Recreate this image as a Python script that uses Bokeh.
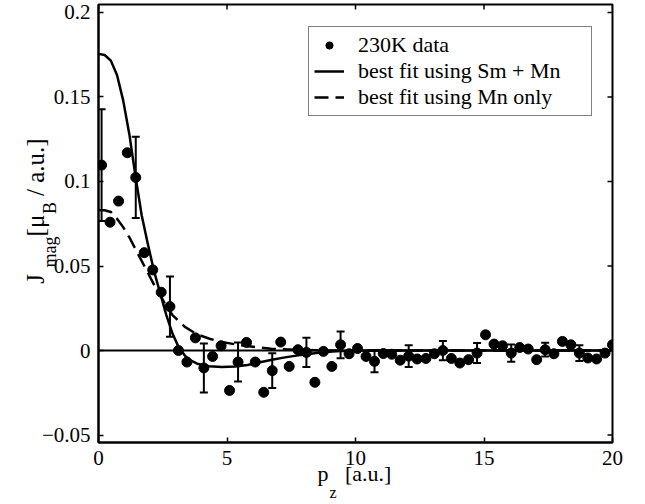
import numpy as np
from bokeh.plotting import figure
from bokeh.models import (ColumnDataSource, Whisker, TeeHead, Span, Legend, LegendItem,
                          LinearAxis, FixedTicker, CustomJSTickFormatter, Title, Range1d)
from bokeh.embed import file_html
from bokeh.resources import INLINE

# ---- data ----
pz = [0.12, 0.45, 0.78, 1.12, 1.45, 1.78, 2.11, 2.44, 2.78, 3.11,
      3.44, 3.77, 4.10, 4.44, 4.77, 5.10, 5.43, 5.76, 6.10, 6.43,
      6.76, 7.09, 7.42, 7.76, 8.09, 8.42, 8.75, 9.08, 9.42, 9.75,
      10.08, 10.41, 10.74, 11.08, 11.41, 11.74, 12.07, 12.40, 12.74, 13.07,
      13.40, 13.73, 14.06, 14.40, 14.73, 15.06, 15.39, 15.72, 16.06, 16.39,
      16.72, 17.05, 17.38, 17.72, 18.05, 18.38, 18.71, 19.04, 19.38, 19.71,
      20.0]
jmag = [0.1097, 0.0759, 0.0884, 0.1170, 0.1024, 0.0579, 0.0477, 0.0345, 0.0260, 0.0000,
        -0.0068, 0.0075, -0.0103, -0.0035, 0.0028, -0.0236, -0.0068, 0.0048, -0.0068, -0.0247,
        -0.0119, 0.0050, -0.0094, 0.0005, -0.0011, -0.0188, -0.0005, -0.0094, 0.0034, -0.0019,
        0.0012, -0.0035, -0.0064, -0.0018, -0.0022, -0.0057, -0.0033, -0.0050, -0.0047, -0.0019,
        0.0000, -0.0047, -0.0074, -0.0054, -0.0015, 0.0093, 0.0038, 0.0028, -0.0015, 0.0018,
        0.0009, -0.0054, 0.0005, -0.0019, 0.0054, 0.0034, -0.0015, -0.0044, -0.0050, -0.0015,
        0.0034]
jerr = [0.0330, 0, 0, 0, 0.0240, 0, 0, 0, 0.0178, 0,
        0, 0, 0.0145, 0, 0, 0, 0.0115, 0, 0, 0,
        0.0103, 0, 0, 0, 0.0086, 0, 0, 0, 0.0079, 0,
        0, 0, 0.0064, 0, 0, 0, 0.0064, 0, 0, 0,
        0.0057, 0, 0, 0, 0.0059, 0, 0, 0, 0.0051, 0,
        0, 0, 0.0041, 0, 0, 0, 0.0047, 0, 0, 0,
        0]

fit_smmn_x = [0, 0.24, 0.48, 0.72, 0.96, 1.2, 1.44, 1.68, 1.92, 2.16, 2.4, 2.64, 2.88,
              3.12, 3.36, 3.6, 3.84, 4.3, 4.8, 5.3, 5.8, 6.2, 6.7, 7.2, 7.7, 8.2, 8.6,
              9.1, 9.6, 10.5, 20]
fit_smmn_y = [0.1755, 0.1748, 0.1715, 0.163, 0.148, 0.128, 0.103, 0.080, 0.063, 0.047,
              0.034, 0.021, 0.010, 0.002, -0.003, -0.006, -0.0078, -0.0093, -0.0098,
              -0.0095, -0.0085, -0.0072, -0.0056, -0.0042, -0.003, -0.002, -0.0012,
              -0.0006, -0.0002, 0.0, 0.0]
fit_mn_x = [0, 0.24, 0.48, 0.72, 0.96, 1.2, 1.44, 1.68, 1.92, 2.16, 2.4, 2.64, 2.88,
            3.36, 3.84, 4.32, 4.8, 5.28, 5.76, 6.24, 6.72, 7.68, 8.64, 9.6, 20]
fit_mn_y = [0.083, 0.083, 0.082, 0.078, 0.073, 0.067, 0.060, 0.053, 0.046, 0.039,
            0.033, 0.026, 0.021, 0.014, 0.0095, 0.007, 0.005, 0.0038, 0.0027, 0.0018,
            0.0011, 0.0004, 0.0001, 0.0, 0.0]

x_ticks = [0, 5, 10, 15, 20]
y_ticks = [-0.05, 0, 0.05, 0.1, 0.15, 0.2]
X_MIN, X_MAX = 0, 20
Y_MIN, Y_MAX = -0.0544, 0.2047
legend_labels = ["230K data", "best fit using Sm + Mn", "best fit using Mn only"]

FONT = "Liberation Serif"
TICK_FS = "21px"
NB = "\u00a0"

p = figure(width=640, height=504, output_backend="svg", toolbar_location=None,
           x_range=Range1d(X_MIN, X_MAX), y_range=Range1d(Y_MIN, Y_MAX),
           min_border_left=98, min_border_right=28, min_border_top=4, min_border_bottom=61,
           x_axis_location=None, y_axis_location=None)
p.grid.visible = False
p.background_fill_color = "white"
p.border_fill_color = "white"
p.outline_line_color = "black"
p.outline_line_width = 2

fmt = CustomJSTickFormatter(code="""
var s = Math.abs(tick).toFixed(2).replace(/0+$/, '').replace(/\\.$/, '');
return (tick < -1e-9 ? '\\u2212' : '') + s;
""")

def make_axis(ticks):
    ax = LinearAxis(ticker=FixedTicker(ticks=ticks), formatter=fmt)
    ax.major_tick_in = 5
    ax.major_tick_out = 0
    ax.minor_tick_in = 0
    ax.minor_tick_out = 0
    ax.major_tick_line_width = 1.5
    ax.axis_line_width = 2
    ax.axis_line_color = "black"
    ax.major_label_text_font = FONT
    ax.major_label_text_color = "black"
    ax.major_label_text_font_size = TICK_FS
    ax.major_label_standoff = 8
    ax.axis_label_text_font = FONT
    ax.axis_label_text_font_style = "normal"
    ax.axis_label_text_color = "black"
    return ax

p.add_layout(make_axis(x_ticks), "below")

# y label J_mag [mu_B / a.u.]: subscripts on the tick axis, main text on a bare axis
yax = make_axis(y_ticks)
yax.axis_label = "mag" + NB * 5 + "B" + NB * 5
yax.axis_label_text_font_size = "18px"
yax.axis_label_standoff = -21
p.add_layout(yax, "left")

ylab = LinearAxis(ticker=FixedTicker(ticks=[]))
ylab.axis_line_color = None
ylab.major_tick_line_color = None
ylab.minor_tick_line_color = None
ylab.major_label_standoff = 0
ylab.axis_label = NB * 4 + "J" + NB * 6 + "[\u03bc" + NB * 2 + " / a.u.]"
ylab.axis_label_text_font = FONT
ylab.axis_label_text_font_style = "normal"
ylab.axis_label_text_font_size = "25px"
ylab.axis_label_text_color = "black"
ylab.axis_label_standoff = -12
p.add_layout(ylab, "left")

# inward ticks on the top and right edges of the box
p.ray(x=x_ticks, y=[Y_MAX] * len(x_ticks), length=5, length_units="screen",
      angle=-np.pi / 2, line_color="black", line_width=1.5)
p.ray(x=[X_MAX] * len(y_ticks), y=y_ticks, length=5, length_units="screen",
      angle=np.pi, line_color="black", line_width=1.5)

# zero line
p.add_layout(Span(location=0, dimension="width", line_color="black", line_width=2))

# fits
r_sm = p.line(fit_smmn_x, fit_smmn_y, line_color="black", line_width=2.5)
r_mn = p.line(fit_mn_x, fit_mn_y, line_color="black", line_width=2.5, line_dash="14 7")

# error bars
ex = [x for x, e in zip(pz, jerr) if e > 0]
ey = [y for y, e in zip(jmag, jerr) if e > 0]
ee = [e for e in jerr if e > 0]
esrc = ColumnDataSource(dict(x=ex, upper=[y + e for y, e in zip(ey, ee)],
                             lower=[y - e for y, e in zip(ey, ee)]))
wk = Whisker(source=esrc, base="x", upper="upper", lower="lower", dimension="height",
             line_color="black", line_width=2,
             upper_head=TeeHead(size=8, line_color="black", line_width=2),
             lower_head=TeeHead(size=8, line_color="black", line_width=2))
p.add_layout(wk)

# data points
src = ColumnDataSource(dict(x=pz, y=jmag))
r_pts = p.scatter("x", "y", source=src, size=10, fill_color="black", line_color="black")

legend = Legend(items=[LegendItem(label=legend_labels[0], renderers=[r_pts]),
                       LegendItem(label=legend_labels[1], renderers=[r_sm]),
                       LegendItem(label=legend_labels[2], renderers=[r_mn])],
                location=(210, 326))
legend.label_text_font = FONT
legend.label_text_font_size = "22px"
legend.label_text_line_height = 1.0
legend.label_text_color = "black"
legend.glyph_width = 30
legend.glyph_height = 18
legend.label_standoff = 14
legend.label_height = 18
legend.label_width = 228
legend.padding = 5
legend.spacing = 0
legend.margin = 0
legend.border_line_color = "black"
legend.border_line_width = 1.5
legend.background_fill_color = "white"
legend.background_fill_alpha = 1
p.add_layout(legend)

# x label p_z [a.u.] : main text line and subscript line
def title(text, size, offset, valign, standoff):
    return Title(text=text, align="left", offset=offset, vertical_align=valign,
                 standoff=standoff, text_font=FONT, text_font_size=size,
                 text_font_style="normal", text_color="black")

x_main = title("p" + NB * 3 + "[a.u.]", "22px", 219, "top", -13)
x_sub = title("z", "16px", 231, "top", 4)
p.add_layout(x_main, "below")
p.add_layout(x_sub, "below")

open("out.html", "w").write(file_html(p, INLINE))
